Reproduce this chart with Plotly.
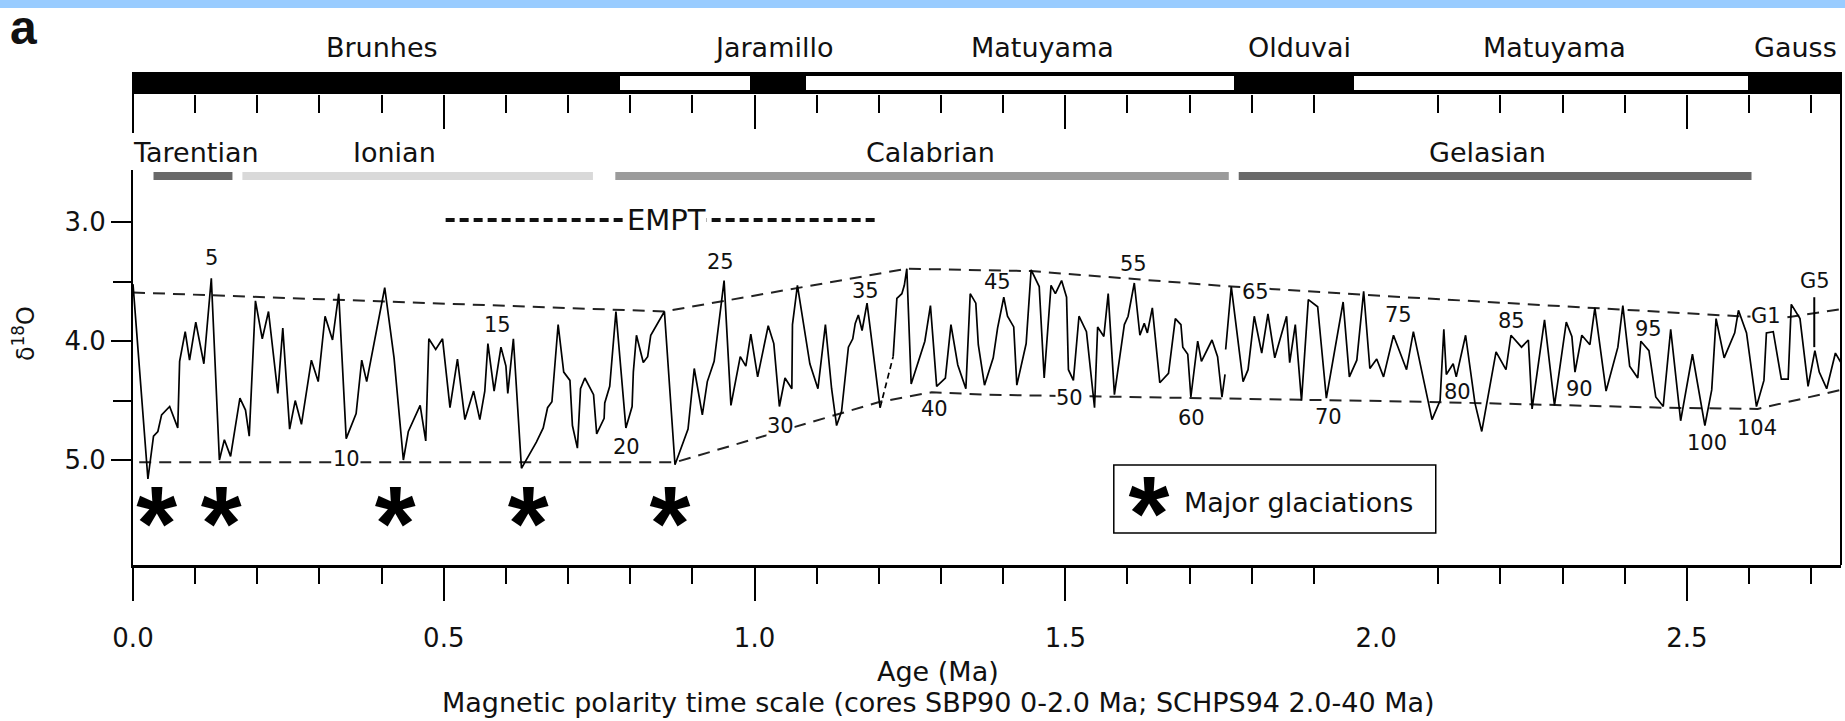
import numpy as np
import plotly.graph_objects as go

# ---------------- data ----------------
# delta18O record, three core segments (Age in Ma, delta18O in permil)
seg1_age = [0.000, 0.024, 0.033, 0.040, 0.046, 0.059, 0.072, 0.075, 0.084, 0.091,
            0.101, 0.114, 0.126, 0.139, 0.147, 0.157, 0.172, 0.181, 0.187, 0.197,
            0.208, 0.218, 0.233, 0.241, 0.252, 0.261, 0.271, 0.287, 0.298, 0.309,
            0.321, 0.331, 0.343, 0.359, 0.368, 0.376, 0.405, 0.420, 0.435, 0.443,
            0.462, 0.471, 0.476, 0.487, 0.498, 0.510, 0.522, 0.534, 0.548, 0.558,
            0.566, 0.571, 0.581, 0.592, 0.600, 0.603, 0.612, 0.625, 0.649, 0.660,
            0.667, 0.674, 0.684, 0.693, 0.703, 0.707, 0.715, 0.720, 0.727, 0.741,
            0.746, 0.758, 0.759, 0.767, 0.777, 0.793, 0.803, 0.805, 0.810, 0.821,
            0.828, 0.833, 0.855, 0.872, 0.893, 0.903, 0.916, 0.924, 0.935, 0.951,
            0.962, 0.977, 0.986, 0.994, 1.005, 1.022, 1.031, 1.040, 1.049, 1.060,
            1.061, 1.069, 1.089, 1.102, 1.114, 1.124, 1.132, 1.140, 1.151, 1.158,
            1.162, 1.167, 1.173, 1.181, 1.202]
seg1_d18o = [3.52, 5.16, 4.80, 4.76, 4.62, 4.55, 4.73, 4.17, 3.92, 4.16,
             3.84, 4.19, 3.47, 5.00, 4.83, 4.97, 4.48, 4.58, 4.80, 3.66,
             3.98, 3.75, 4.44, 3.89, 4.74, 4.50, 4.70, 4.16, 4.34, 3.79,
             3.99, 3.60, 4.82, 4.61, 4.16, 4.34, 3.55, 4.14, 5.00, 4.76,
             4.54, 4.84, 3.98, 4.07, 3.98, 4.56, 4.15, 4.66, 4.42, 4.66,
             4.42, 4.02, 4.42, 4.05, 4.21, 4.44, 3.98, 5.07, 4.85, 4.73,
             4.56, 4.51, 3.86, 4.26, 4.33, 4.71, 4.90, 4.40, 4.31, 4.45,
             4.78, 4.65, 4.52, 4.38, 3.75, 4.73, 4.55, 4.26, 3.95, 4.18,
             4.13, 3.95, 3.75, 5.04, 4.74, 4.23, 4.62, 4.34, 4.17, 3.49,
             4.54, 4.13, 4.21, 3.94, 4.30, 3.87, 4.02, 4.55, 4.31, 4.40,
             3.86, 3.53, 4.19, 4.40, 3.86, 4.40, 4.71, 4.59, 4.05, 3.98,
             3.85, 3.78, 3.91, 3.68, 4.56]
seg2_age = [1.223, 1.229, 1.237, 1.241, 1.245, 1.252, 1.274, 1.283, 1.293, 1.307,
            1.316, 1.327, 1.340, 1.347, 1.356, 1.360, 1.370, 1.384, 1.391, 1.401,
            1.407, 1.417, 1.422, 1.437, 1.445, 1.458, 1.466, 1.477, 1.484, 1.494,
            1.502, 1.505, 1.513, 1.522, 1.534, 1.547, 1.552, 1.562, 1.569, 1.579,
            1.595, 1.601, 1.611, 1.620, 1.627, 1.632, 1.640, 1.652, 1.666, 1.677,
            1.686, 1.689, 1.697, 1.702, 1.713, 1.719, 1.736, 1.745, 1.752, 1.757]
seg2_d18o = [4.13, 3.64, 3.60, 3.53, 3.39, 4.36, 4.00, 3.70, 4.38, 4.31,
             3.86, 4.20, 4.40, 3.60, 3.68, 4.03, 4.37, 4.14, 3.89, 3.63,
             3.79, 3.88, 4.37, 4.02, 3.40, 3.54, 4.31, 3.53, 3.60, 3.49,
             3.63, 4.24, 4.33, 3.79, 3.92, 4.56, 3.88, 3.96, 3.60, 4.45,
             3.86, 3.79, 3.51, 3.95, 3.85, 3.93, 3.72, 4.35, 4.27, 3.81,
             3.86, 4.05, 4.11, 4.47, 4.00, 4.17, 3.99, 4.13, 4.47, 4.28]
seg3_age = [1.758, 1.767, 1.786, 1.794, 1.804, 1.816, 1.826, 1.837, 1.856, 1.861,
            1.870, 1.880, 1.891, 1.906, 1.920, 1.947, 1.957, 1.969, 1.980, 1.990,
            2.001, 2.012, 2.028, 2.049, 2.060, 2.090, 2.103, 2.109, 2.113, 2.124,
            2.129, 2.144, 2.159, 2.170, 2.193, 2.209, 2.217, 2.234, 2.245, 2.251,
            2.271, 2.287, 2.306, 2.315, 2.320, 2.331, 2.344, 2.352, 2.370, 2.389,
            2.397, 2.408, 2.421, 2.426, 2.439, 2.450, 2.462, 2.474, 2.490, 2.509,
            2.529, 2.540, 2.547, 2.560, 2.577, 2.583, 2.596, 2.612, 2.624, 2.628,
            2.639, 2.652, 2.663, 2.668, 2.682, 2.695, 2.706, 2.713, 2.725, 2.739,
            2.749]
seg3_d18o = [4.07, 3.54, 4.34, 4.24, 3.79, 4.10, 3.77, 4.14, 3.79, 4.18,
             3.86, 4.50, 3.65, 3.71, 4.48, 3.67, 4.30, 4.16, 3.58, 4.23,
             4.15, 4.30, 3.95, 4.24, 3.92, 4.66, 4.50, 3.90, 4.28, 4.19,
             4.30, 3.95, 4.52, 4.76, 4.09, 4.24, 3.95, 4.05, 3.99, 4.57,
             3.82, 4.54, 3.84, 3.96, 4.26, 3.95, 4.03, 3.72, 4.42, 4.05,
             3.70, 4.21, 4.31, 4.00, 4.08, 4.47, 4.55, 3.90, 4.67, 4.11,
             4.71, 4.41, 3.81, 4.14, 3.93, 3.74, 3.93, 4.55, 4.33, 3.93,
             3.92, 4.32, 4.32, 3.69, 3.81, 4.38, 4.08, 4.26, 4.40, 4.10,
             4.19]
# dashed link across the core break
gap_age = [1.202, 1.223]
gap_d18o = [4.56, 4.13]

# interglacial / glacial envelopes
upper_env_age = [0.000, 0.855, 1.245, 1.445, 1.767, 2.046, 2.583, 2.660, 2.748]
upper_env_d18o = [3.59, 3.75, 3.39, 3.41, 3.54, 3.63, 3.79, 3.80, 3.73]
lower_env_age = [0.010, 0.872, 1.202, 1.285, 1.370, 2.079, 2.462, 2.614, 2.748]
lower_env_d18o = [5.02, 5.02, 4.51, 4.43, 4.45, 4.51, 4.56, 4.57, 4.41]

# EMPT interval
empt_age = [0.503, 1.198]
empt_d18o = [2.98, 2.98]
empt_label_age = 0.859

# marine isotope stage labels
mis_labels = ['5', '10', '15', '20', '25', '30', '35', '40', '45', '50', '55',
              '60', '65', '70', '75', '80', '85', '90', '95', '100', '104', 'G1', 'G5']
mis_age = [0.1255, 0.3437, 0.5867, 0.7942, 0.9454, 1.0425, 1.1792, 1.2892, 1.3901,
           1.5074, 1.6103, 1.7033, 1.8066, 1.9241, 2.0356, 2.1305, 2.2180, 2.3279,
           2.4378, 2.5332, 2.6136, 2.6266, 2.7059]
mis_d18o = [3.30, 4.99, 3.86, 4.89, 3.33, 4.71, 3.58, 4.57, 3.50, 4.48, 3.35,
            4.65, 3.59, 4.64, 3.78, 4.43, 3.83, 4.40, 3.90, 4.86, 4.73, 3.79, 3.49]
mis_masked = ['10', '30', '50', '65', 'G1']
g5_age = 2.705
g5_d18o = [3.63, 4.05]

# major glaciations
glaciation_age = [0.038, 0.142, 0.422, 0.636, 0.864]

# magnetic polarity chrons
chron_start = [0.000, 0.783, 0.992, 1.082, 1.771, 1.964, 2.598]
chron_end = [0.783, 0.992, 1.082, 1.771, 1.964, 2.598, 2.900]
chron_polarity = ['N', 'R', 'N', 'R', 'N', 'R', 'N']
chron_names = ['Brunhes', 'Jaramillo', 'Matuyama', 'Olduvai', 'Matuyama', 'Gauss']
chron_name_age = [0.400, 1.030, 1.464, 1.877, 2.287, 2.675]

# geological stages
stage_names = ['Tarentian', 'Ionian', 'Calabrian', 'Gelasian']
stage_start = [0.033, 0.176, 0.776, 1.779]
stage_end = [0.160, 0.740, 1.763, 2.604]
stage_label_age = [0.101, 0.4215, 1.283, 2.180]
stage_colors = ['#696969', '#d9d9d9', '#9b9b9b', '#696969']

# axis ticks
x_label_ticks = [0.0, 0.5, 1.0, 1.5, 2.0, 2.5]
x_major_ticks = [0.0, 0.5, 1.0, 1.5, 2.5]          # no tick drawn at 2.0 in the original
x_minor_ticks = [v for v in np.round(np.arange(0.1, 2.75, 0.1), 1)
                 if abs(v * 2 - round(v * 2)) > 1e-6]
y_major_ticks = [3.0, 4.0, 5.0]
y_minor_ticks = [3.5, 4.5]

# ---------------- layout geometry ----------------
W, H = 1845, 721
ML, MR, MT, MB = 133, 4, 0, 156
PW, PH = W - ML - MR, H - MT - MB
X_RANGE = [0, 2.748]
Y_RANGE = [5.884, 2.559]


def pxx(x):
    return (x - ML) / PW


def pxy(y):
    return (H - MB - y) / PH


FONT = 'DejaVu Sans'
INK = '#111111'

fig = go.Figure()

# polarity bar (black base, white reversed intervals)
fig.add_trace(go.Bar(orientation='h', y=[0] * len(chron_start),
                     base=chron_start,
                     x=[e - s for s, e in zip(chron_start, chron_end)],
                     width=1, marker=dict(color='black', line=dict(width=0)),
                     xaxis='x2', yaxis='y2', showlegend=False, hoverinfo='skip'))
rev = [i for i, p in enumerate(chron_polarity) if p == 'R']
fig.add_trace(go.Bar(orientation='h', y=[0] * len(rev),
                     base=[chron_start[i] for i in rev],
                     x=[chron_end[i] - chron_start[i] for i in rev],
                     width=0.66, marker=dict(color='white', line=dict(width=0)),
                     xaxis='x2', yaxis='y2', showlegend=False, hoverinfo='skip'))

# envelopes
env_style = dict(color='#222222', width=2, dash='12px,8px')
fig.add_trace(go.Scatter(x=upper_env_age, y=upper_env_d18o, mode='lines',
                         line=env_style, showlegend=False, hoverinfo='skip'))
fig.add_trace(go.Scatter(x=lower_env_age, y=lower_env_d18o, mode='lines',
                         line=env_style, showlegend=False, hoverinfo='skip'))

# EMPT
fig.add_trace(go.Scatter(x=empt_age, y=empt_d18o, mode='lines',
                         line=dict(color='#111111', width=4, dash='9px,5px'),
                         showlegend=False, hoverinfo='skip'))

# record
rec_age = seg1_age + [None] + seg2_age + [None] + seg3_age
rec_d18o = seg1_d18o + [None] + seg2_d18o + [None] + seg3_d18o
fig.add_trace(go.Scatter(x=rec_age, y=rec_d18o, mode='lines',
                         line=dict(color='black', width=1.7),
                         showlegend=False, hoverinfo='skip'))
fig.add_trace(go.Scatter(x=gap_age, y=gap_d18o, mode='lines',
                         line=dict(color='black', width=1.7, dash='6px,4px'),
                         showlegend=False, hoverinfo='skip'))
fig.add_trace(go.Scatter(x=[g5_age, g5_age], y=g5_d18o, mode='lines',
                         line=dict(color='black', width=2),
                         showlegend=False, hoverinfo='skip'))

# glaciation asterisks
ast_font = dict(family='Liberation Sans', size=105, color='black', weight='bold')
fig.add_trace(go.Scatter(x=glaciation_age, y=[5.62] * len(glaciation_age),
                         mode='text', text=['*'] * len(glaciation_age),
                         textposition='middle center', textfont=ast_font,
                         showlegend=False, hoverinfo='skip'))
# legend symbol
fig.add_trace(go.Scatter(x=[1.6345], y=[5.54], mode='text', text=['*'],
                         textposition='middle center', textfont=ast_font,
                         showlegend=False, hoverinfo='skip'))

# dummy trace for the tick-only overlay axis
fig.add_trace(go.Scatter(x=[0], y=[4.0], xaxis='x3', yaxis='y', mode='lines',
                         line=dict(width=0), showlegend=False, hoverinfo='skip'))

shapes = []
# top banner
shapes.append(dict(type='rect', xref='paper', yref='paper', x0=pxx(0), x1=pxx(W),
                   y0=pxy(8), y1=pxy(0), fillcolor='#99ccff', line=dict(width=0)))
# stage bars
for s, e, c in zip(stage_start, stage_end, stage_colors):
    shapes.append(dict(type='rect', xref='x', yref='paper', x0=s, x1=e,
                       y0=pxy(180), y1=pxy(172), fillcolor=c, line=dict(width=0)))
# frame pieces
shapes.append(dict(type='line', xref='paper', yref='paper', x0=0, x1=0,
                   y0=pxy(72), y1=pxy(133), line=dict(color='black', width=2)))
shapes.append(dict(type='line', xref='paper', yref='paper', x0=1, x1=1,
                   y0=pxy(72), y1=pxy(565), line=dict(color='black', width=2)))
# legend box
shapes.append(dict(type='rect', xref='x', yref='y', x0=1.578, x1=2.096,
                   y0=5.042, y1=5.614, fillcolor='white', layer='below',
                   line=dict(color='black', width=1.5)))

ann = []
ann.append(dict(text='<b>a</b>', xref='paper', yref='paper', x=pxx(9), y=pxy(0),
                xanchor='left', yanchor='top', showarrow=False, borderpad=0,
                font=dict(family='Liberation Sans', size=48, color=INK)))
for name, a in zip(chron_names, chron_name_age):
    ann.append(dict(text=name, xref='x', yref='paper', x=a, y=pxy(47.5),
                    xanchor='center', yanchor='middle', showarrow=False,
                    font=dict(family=FONT, size=27, color=INK)))
for name, a in zip(stage_names, stage_label_age):
    ann.append(dict(text=name, xref='x', yref='paper', x=a, y=pxy(152),
                    xanchor='center', yanchor='middle', showarrow=False,
                    font=dict(family=FONT, size=27, color=INK)))
ann.append(dict(text='EMPT', xref='x', yref='y', x=empt_label_age, y=empt_d18o[0],
                xanchor='center', yanchor='middle', showarrow=False, bgcolor='white',
                borderpad=0, font=dict(family=FONT, size=29, color=INK)))
for lab, a, d in zip(mis_labels, mis_age, mis_d18o):
    ann.append(dict(text=lab, xref='x', yref='y', x=a, y=d, xanchor='center',
                    yanchor='middle', showarrow=False,
                    bgcolor='white' if lab in mis_masked else None, borderpad=0,
                    font=dict(family=FONT, size=21, color=INK)))
ann.append(dict(text='Major glaciations', xref='x', yref='y', x=1.6876, y=5.36,
                xanchor='left', yanchor='middle', showarrow=False,
                font=dict(family=FONT, size=27, color=INK)))
ann.append(dict(text='δ<sup>18</sup>O', xref='paper', yref='paper', x=pxx(24),
                y=pxy(334), textangle=-90, xanchor='center', yanchor='middle',
                showarrow=False, font=dict(family=FONT, size=24, color=INK)))
ann.append(dict(text='Age (Ma)', xref='paper', yref='paper', x=pxx(938), y=pxy(671),
                xanchor='center', yanchor='middle', showarrow=False,
                font=dict(family=FONT, size=27, color=INK)))
ann.append(dict(text='Magnetic polarity time scale (cores SBP90 0-2.0 Ma; SCHPS94 2.0-40 Ma)',
                xref='paper', yref='paper', x=pxx(938), y=pxy(702),
                xanchor='center', yanchor='middle', showarrow=False,
                font=dict(family=FONT, size=27, color=INK)))

fig.update_layout(
    template='none',
    width=W, height=H, margin=dict(l=ML, r=MR, t=MT, b=MB, pad=0, autoexpand=False),
    paper_bgcolor='white', plot_bgcolor='rgba(0,0,0,0)',
    font=dict(family=FONT, color=INK), barmode='overlay', bargap=0,
    showlegend=False, hovermode=False,
    shapes=shapes, annotations=ann,
    xaxis=dict(range=X_RANGE, anchor='y', domain=[0, 1], showline=True, linewidth=2.5,
               linecolor='black', ticks='', tickvals=x_label_ticks,
               ticktext=['%.1f' % v for v in x_label_ticks], automargin=False,
               tickfont=dict(family=FONT, size=26, color=INK), ticklabelstandoff=48,
               showgrid=False, zeroline=False),
    xaxis3=dict(range=X_RANGE, matches='x', overlaying='x', anchor='y', automargin=False,
                showline=False, showticklabels=False, showgrid=False, zeroline=False,
                ticks='outside', tickvals=x_major_ticks, ticklen=35, tickwidth=2,
                tickcolor='black',
                minor=dict(tickvals=x_minor_ticks, ticks='outside', ticklen=18,
                           tickwidth=2, tickcolor='black', showgrid=False)),
    xaxis2=dict(range=X_RANGE, matches='x', anchor='y2', showline=False, automargin=False,
                showticklabels=False, showgrid=False, zeroline=False,
                ticks='outside', tickvals=x_major_ticks, ticklen=34, tickwidth=2,
                tickcolor='black',
                minor=dict(tickvals=x_minor_ticks, ticks='outside', ticklen=18,
                           tickwidth=2, tickcolor='black', showgrid=False)),
    yaxis=dict(range=Y_RANGE, domain=[0, pxy(170)], anchor='x', showline=True,
               linewidth=2, linecolor='black', ticks='outside', tickvals=y_major_ticks,
               ticktext=['%.1f' % v for v in y_major_ticks], ticklen=20, tickwidth=2,
               tickcolor='black', tickfont=dict(family=FONT, size=26, color=INK),
               showgrid=False, zeroline=False, automargin=False,
               minor=dict(tickvals=y_minor_ticks, ticks='outside', ticklen=18,
                          tickwidth=2, tickcolor='black', showgrid=False)),
    yaxis2=dict(range=[-0.5, 0.5], domain=[pxy(94), pxy(72)], anchor='x2',
                visible=False, fixedrange=True, automargin=False),
)

# remove the browser's default page margin so the figure sits at the window origin
fig.write_html('out.html', config={'displayModeBar': False, 'staticPlot': True},
               post_script="document.body.style.margin='0px';")
